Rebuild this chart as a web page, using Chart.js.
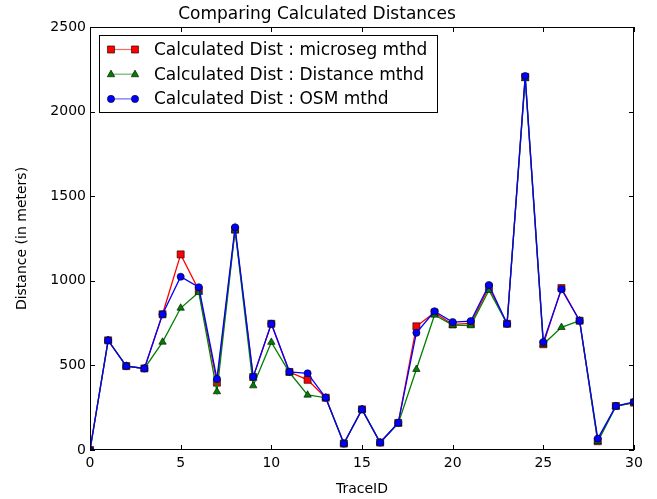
<!DOCTYPE html>
<html>
<head>
<meta charset="utf-8">
<script src="https://cdn.jsdelivr.net/npm/chart.js@4/dist/chart.umd.min.js"></script>
<style>
  html, body { margin: 0; padding: 0; background: #fff; }
  canvas { display: block; }
</style>
</head>
<body>
<canvas id="dist-chart" width="657" height="499"></canvas>
<script>
// values
const traceIds = [0, 1, 2, 3, 4, 5, 6, 7, 8, 9, 10, 11, 12, 13, 14, 15, 16, 17, 18, 19, 20, 21, 22, 23, 24, 25, 26, 27, 28, 29, 30];
const microsegDist = [0, 648, 496, 482, 802, 1156, 945, 398, 1302, 431, 746, 461, 415, 309, 38, 240, 44, 160, 731, 812, 742, 748, 962, 746, 2205, 625, 957, 764, 52, 260, 280];
const distanceDist = [0, 648, 496, 482, 638, 839, 932, 345, 1300, 380, 637, 458, 325, 309, 38, 240, 44, 157, 477, 798, 738, 735, 944, 746, 2195, 625, 725, 764, 50, 258, 280];
const osmDist = [0, 648, 496, 482, 802, 1024, 962, 420, 1316, 432, 746, 462, 453, 309, 38, 240, 44, 161, 693, 820, 756, 762, 975, 746, 2210, 638, 950, 764, 67, 260, 285];
const xTicks = [0, 5, 10, 15, 20, 25, 30];
const yTicks = [0, 500, 1000, 1500, 2000, 2500];
const seriesLabels = ['Calculated Dist : microseg mthd', 'Calculated Dist : Distance mthd', 'Calculated Dist : OSM mthd'];

const FONT = '"DejaVu Sans", "Liberation Sans", sans-serif';

const toPoints = vals => traceIds.map((x, i) => ({ x: x, y: vals[i] }));

function drawMarker(ctx, style, x, y, r, fill) {
  ctx.save();
  ctx.fillStyle = fill;
  ctx.strokeStyle = '#000';
  ctx.lineWidth = 0.6;
  ctx.beginPath();
  if (style === 'rect') {
    const s = Math.SQRT1_2 * r;
    ctx.rect(x - s, y - s, 2 * s, 2 * s);
  } else if (style === 'triangle') {
    ctx.moveTo(x - r * 0.87, y + r * 0.6);
    ctx.lineTo(x, y - r * 0.95);
    ctx.lineTo(x + r * 0.87, y + r * 0.6);
    ctx.closePath();
  } else {
    ctx.arc(x, y, r, 0, Math.PI * 2);
  }
  ctx.fill();
  ctx.stroke();
  ctx.restore();
}

// box, inward ticks on all four sides, and the legend inside the axes
const framePlugin = {
  id: 'frame',
  afterDraw(chart) {
    const { ctx, chartArea: a, scales } = chart;
    ctx.save();
    ctx.strokeStyle = '#000';
    ctx.lineWidth = 1;
    ctx.strokeRect(a.left + 0.5, a.top + 0.5, a.right - a.left - 1, a.bottom - a.top - 1);
    ctx.beginPath();
    xTicks.forEach(v => {
      const px = Math.round(scales.x.getPixelForValue(v)) + 0.5;
      ctx.moveTo(px, a.bottom); ctx.lineTo(px, a.bottom - 5);
      ctx.moveTo(px, a.top); ctx.lineTo(px, a.top + 5);
    });
    yTicks.forEach(v => {
      const py = Math.round(scales.y.getPixelForValue(v)) + 0.5;
      ctx.moveTo(a.left, py); ctx.lineTo(a.left + 5, py);
      ctx.moveTo(a.right, py); ctx.lineTo(a.right - 5, py);
    });
    ctx.stroke();

    // legend
    const lx = 99, ly = 35, lw = 338, lh = 77;
    ctx.fillStyle = '#fff';
    ctx.fillRect(lx, ly, lw, lh);
    ctx.strokeRect(lx + 0.5, ly + 0.5, lw, lh);
    chart.data.datasets.forEach((ds, i) => {
      const rowY = 49.5 + i * 24.7;
      ctx.strokeStyle = ds.borderColor;
      ctx.globalAlpha = 0.6;
      ctx.lineWidth = 1.2;
      ctx.beginPath();
      ctx.moveTo(111, rowY); ctx.lineTo(135, rowY);
      ctx.stroke();
      ctx.globalAlpha = 1;
      drawMarker(ctx, ds.pointStyle, 111, rowY, ds.pointRadius, ds.pointBackgroundColor);
      drawMarker(ctx, ds.pointStyle, 135, rowY, ds.pointRadius, ds.pointBackgroundColor);
      ctx.fillStyle = '#000';
      ctx.font = '17px ' + FONT;
      ctx.textBaseline = 'middle';
      ctx.textAlign = 'left';
      ctx.fillText(seriesLabels[i], 154, rowY + 1);
    });
    ctx.restore();
  }
};

const seriesStyle = (color, style, radius, order) => ({
  borderColor: color,
  backgroundColor: color,
  pointBackgroundColor: color,
  pointBorderColor: '#000',
  pointBorderWidth: 0.6,
  pointStyle: style,
  pointRadius: radius,
  pointHoverRadius: radius,
  borderWidth: 1.3,
  tension: 0,
  fill: false,
  clip: 0,
  order: order
});

new Chart(document.getElementById('dist-chart'), {
  type: 'line',
  data: {
    datasets: [
      Object.assign({ label: seriesLabels[0], data: toPoints(microsegDist) }, seriesStyle('#ff0000', 'rect', 5, 3)),
      Object.assign({ label: seriesLabels[1], data: toPoints(distanceDist) }, seriesStyle('#008000', 'triangle', 4.3, 2)),
      Object.assign({ label: seriesLabels[2], data: toPoints(osmDist) }, seriesStyle('#0000ff', 'circle', 3.6, 1))
    ]
  },
  options: {
    responsive: false,
    animation: false,
    devicePixelRatio: 1,
    layout: { padding: { left: 0, right: 23, top: 0, bottom: 0 } },
    plugins: {
      legend: { display: false },
      tooltip: { enabled: false },
      title: {
        display: true,
        text: 'Comparing Calculated Distances',
        color: '#000',
        font: { family: FONT, size: 17, weight: 'normal', lineHeight: 1.2 },
        padding: { top: 4, bottom: 2.6 }
      }
    },
    scales: {
      x: {
        type: 'linear',
        min: 0,
        max: 30,
        grid: { display: false, drawTicks: false },
        border: { display: false },
        afterFit: s => { s.height = 49; },
        afterBuildTicks: s => { s.ticks = xTicks.map(v => ({ value: v })); },
        ticks: { color: '#000', padding: 5, font: { family: FONT, size: 14 }, maxRotation: 0, callback: v => String(v) },
        title: {
          display: true,
          text: 'TraceID',
          color: '#000',
          font: { family: FONT, size: 14, lineHeight: 1.2 },
          padding: { top: 0, bottom: 1.6 }
        }
      },
      y: {
        min: 0,
        max: 2500,
        grid: { display: false, drawTicks: false },
        border: { display: false },
        afterFit: s => { s.width = 90; },
        afterBuildTicks: s => { s.ticks = yTicks.map(v => ({ value: v })); },
        ticks: { color: '#000', padding: 4, font: { family: FONT, size: 14 }, callback: v => String(v) },
        title: {
          display: true,
          text: 'Distance (in meters)',
          color: '#000',
          font: { family: FONT, size: 14, lineHeight: 1.2 },
          padding: { top: 13.6, bottom: 0 }
        }
      }
    }
  },
  plugins: [framePlugin]
});
</script>
</body>
</html>
